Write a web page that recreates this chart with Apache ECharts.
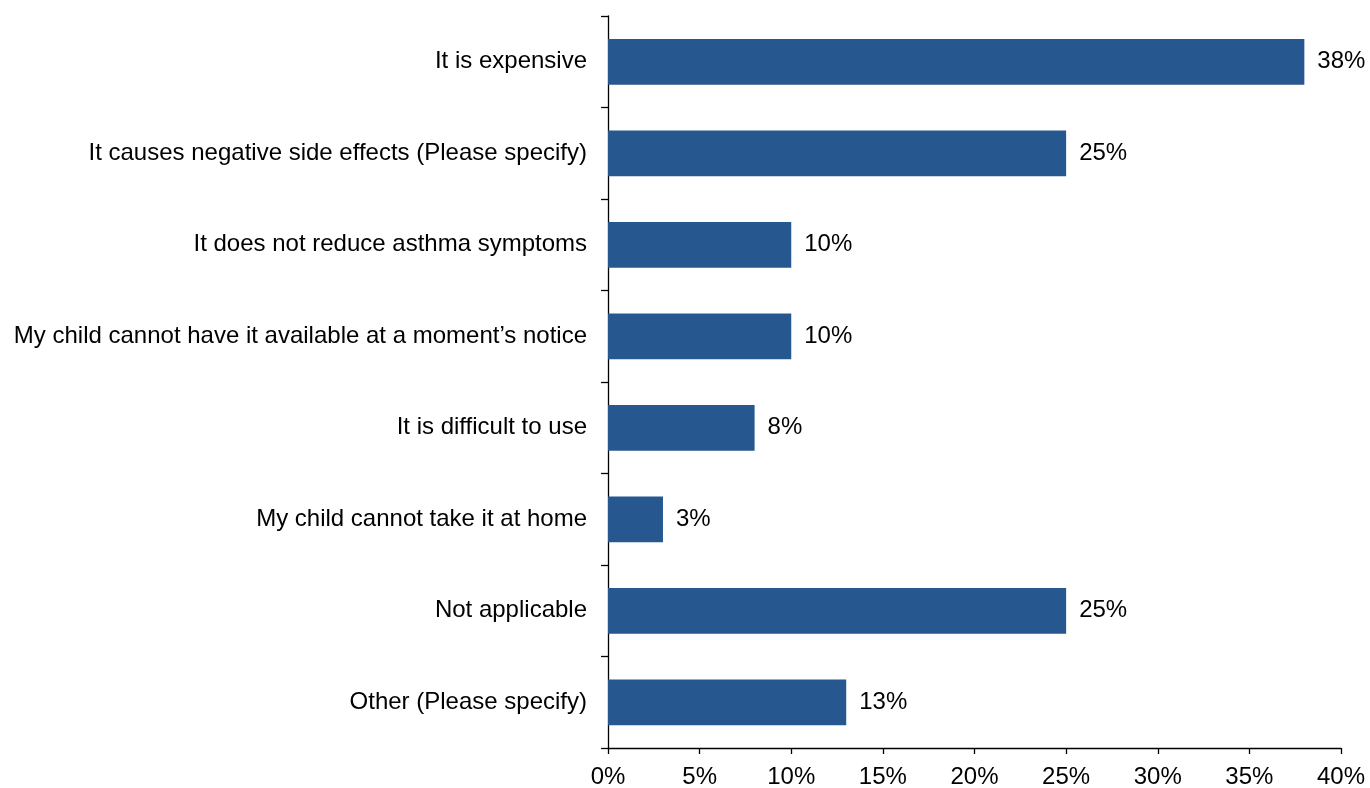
<!DOCTYPE html>
<html><head><meta charset="utf-8">
<script src="https://cdn.jsdelivr.net/npm/echarts@6/dist/echarts.min.js"></script>
<style>html,body{margin:0;padding:0;background:#fff}#c{width:1370px;height:788px}</style>
</head><body><div id="c"></div>
<script>
const categories = [
  "It is expensive",
  "It causes negative side effects (Please specify)",
  "It does not reduce asthma symptoms",
  "My child cannot have it available at a moment\u2019s notice",
  "It is difficult to use",
  "My child cannot take it at home",
  "Not applicable",
  "Other (Please specify)"
];
const values = [38, 25, 10, 10, 8, 3, 25, 13];
const xTicks = [0, 5, 10, 15, 20, 25, 30, 35, 40];

const chart = echarts.init(document.getElementById('c'), null, {renderer: 'canvas'});
const font = "'Liberation Sans', Arial, sans-serif";
chart.setOption({
  animation: false,
  grid: {left: 608, right: 29, top: 16, bottom: 40, containLabel: false, outerBoundsMode: 'none'},
  xAxis: {
    type: 'value', min: 0, max: 40, interval: 5,
    axisLine: {show: true, lineStyle: {color: '#000', width: 1.3}},
    axisTick: {show: true, length: 6, lineStyle: {color: '#000', width: 1.3}},
    axisLabel: {color: '#000', fontFamily: font, fontSize: 24, margin: 17, formatter: v => v + '%'},
    splitLine: {show: false}
  },
  yAxis: {
    type: 'category', data: categories, inverse: true,
    axisLine: {show: true, lineStyle: {color: '#000', width: 1.3}},
    axisTick: {show: true, length: 7, alignWithLabel: false, lineStyle: {color: '#000', width: 1.3}},
    axisLabel: {color: '#000', fontFamily: font, fontSize: 24, margin: 21}
  },
  series: [{
    type: 'bar', data: values, barWidth: '50%',
    itemStyle: {color: '#26588f'},
    label: {show: true, position: 'right', distance: 13, color: '#000', fontFamily: font, fontSize: 24, formatter: p => p.value + '%'}
  }]
});
</script></body></html>
